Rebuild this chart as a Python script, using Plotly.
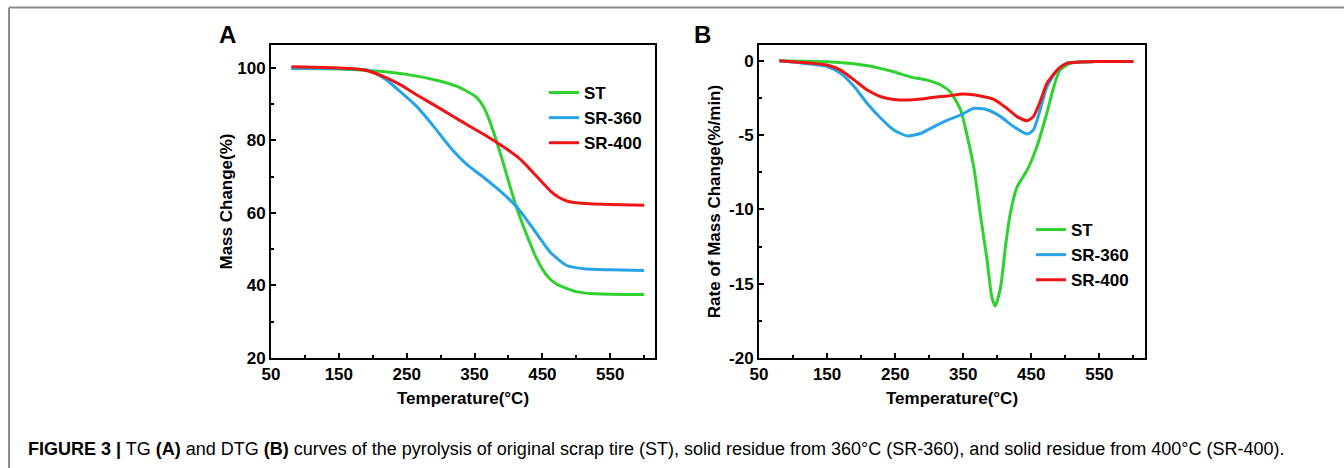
import plotly.graph_objects as go

W, H = 1344, 468

# ---------------- Data: TG (panel A) ----------------
tg_st_T = [80, 150, 200, 250, 300, 325, 340, 350, 358, 365, 372, 380, 390, 400, 410, 420, 430, 440, 450, 460, 470, 480, 490, 500, 520, 550, 600]
tg_st_M = [99.8, 99.7, 99.2, 98.2, 96.3, 94.8, 93.4, 92.3, 90.8, 88.6, 85.5, 81.2, 75.2, 68.8, 62.6, 57.3, 52.5, 48.0, 44.5, 42.0, 40.5, 39.6, 38.9, 38.3, 37.8, 37.6, 37.5]

tg_360_T = [80, 150, 192, 217, 241, 265, 290, 315, 339, 364, 388, 413, 437, 462, 486, 511, 550, 600]
tg_360_M = [99.9, 99.8, 99.4, 97.1, 93.4, 89.3, 83.8, 77.9, 73.3, 69.7, 66.0, 61.5, 55.5, 49.1, 45.5, 44.6, 44.3, 44.1]

tg_400_T = [80, 168, 192, 217, 241, 265, 290, 315, 339, 364, 388, 400, 413, 425, 437, 450, 462, 474, 486, 500, 520, 550, 600]
tg_400_M = [100.3, 99.8, 99.2, 97.5, 95.3, 92.5, 89.8, 87.0, 84.3, 81.6, 78.8, 77.3, 75.5, 73.4, 71.0, 68.4, 66.0, 64.3, 63.3, 62.8, 62.5, 62.3, 62.1]

# ---------------- Data: DTG (panel B) ----------------
dtg_st_T = [80, 151, 205, 248, 273, 297, 317, 331, 346, 356, 366, 375, 385, 392, 397, 405, 412, 419, 429, 444, 458, 473, 483, 492, 507, 550, 600]
dtg_st_R = [0.0, -0.07, -0.3, -0.74, -1.1, -1.3, -1.63, -2.1, -3.3, -5.1, -7.3, -10.3, -13.4, -15.9, -16.5, -15.2, -12.5, -10.3, -8.5, -7.35, -5.8, -3.5, -1.75, -0.63, -0.18, -0.05, -0.05]

dtg_360_T = [80, 151, 170, 190, 209, 229, 248, 268, 288, 307, 327, 346, 366, 385, 405, 424, 444, 453, 463, 473, 488, 502, 550, 600]
dtg_360_R = [0.0, -0.4, -0.85, -1.75, -2.87, -3.87, -4.66, -5.06, -4.88, -4.43, -3.99, -3.65, -3.2, -3.3, -3.76, -4.43, -4.93, -4.66, -3.3, -1.75, -0.63, -0.18, -0.05, -0.05]

dtg_400_T = [80, 151, 170, 190, 209, 229, 248, 268, 288, 307, 327, 351, 375, 395, 414, 429, 444, 453, 463, 473, 488, 502, 550, 600]
dtg_400_R = [0.0, -0.3, -0.63, -1.3, -1.97, -2.42, -2.6, -2.64, -2.58, -2.46, -2.37, -2.24, -2.37, -2.6, -3.2, -3.76, -4.03, -3.76, -2.75, -1.52, -0.63, -0.18, -0.05, -0.05]

names = ["ST", "SR-360", "SR-400"]
colors = ["#2fd12f", "#27a4e8", "#f01515"]

x_ticks = [50, 150, 250, 350, 450, 550]
a_yticks = [20, 40, 60, 80, 100]
b_yticks = [-20, -15, -10, -5, 0]
b_yticktext = ["-20", "-15", "-10", "-5", "0"]

caption = ("<b>FIGURE 3 |</b> TG <b>(A)</b> and DTG <b>(B)</b> curves of the pyrolysis of original scrap tire (ST), "
           "solid residue from 360°C (SR-360), and solid residue from 400°C (SR-400).")

FONT = "Liberation Sans, Arial, sans-serif"

fig = go.Figure()

tg = [(tg_st_T, tg_st_M), (tg_360_T, tg_360_M), (tg_400_T, tg_400_M)]
dtg = [(dtg_st_T, dtg_st_R), (dtg_360_T, dtg_360_R), (dtg_400_T, dtg_400_R)]

for (xs, ys), n, c in zip(tg, names, colors):
    fig.add_trace(go.Scatter(x=xs, y=ys, name=n, mode="lines",
                             line=dict(color=c, width=3, shape="spline", smoothing=0.6),
                             xaxis="x", yaxis="y", legend="legend"))
for (xs, ys), n, c in zip(dtg, names, colors):
    fig.add_trace(go.Scatter(x=xs, y=ys, name=n, mode="lines",
                             line=dict(color=c, width=3, shape="spline", smoothing=0.6),
                             xaxis="x2", yaxis="y2", legend="legend2"))

axis_common = dict(showline=True, linecolor="black", linewidth=2, mirror=True,
                   ticks="inside", ticklen=5, tickwidth=1.5, tickcolor="black",
                   showgrid=False, zeroline=False, automargin=False,
                   tickfont=dict(family=FONT, size=17, color="black", weight="bold"),
                   minor=dict(ticks="inside", ticklen=3, tickwidth=1.5, tickcolor="black"))

title_font = dict(family=FONT, size=17, color="black", weight="bold")
ydom = [1 - 358 / H, 1 - 45 / H]

fig.update_layout(
    width=W, height=H, autosize=False,
    margin=dict(l=0, r=0, t=0, b=0, pad=0, autoexpand=False),
    paper_bgcolor="white", plot_bgcolor="white",
    showlegend=True,
    xaxis=dict(domain=[271 / W, 655 / W], range=[50, 616], tickvals=x_ticks,
               minor_dtick=50, ticklabelstandoff=0,
               title=dict(text="Temperature(°C)", standoff=9, font=title_font),
               anchor="y", **axis_common),
    yaxis=dict(domain=ydom, range=[20, 106.3], tickvals=a_yticks,
               minor_dtick=10,
               title=dict(text="Mass Change(%)", standoff=0, font=title_font),
               anchor="x", **axis_common),
    xaxis2=dict(domain=[759 / W, 1145 / W], range=[50, 617], tickvals=x_ticks,
                minor_dtick=50, ticklabelstandoff=0,
                title=dict(text="Temperature(°C)", standoff=9, font=title_font),
                anchor="y2", **axis_common),
    yaxis2=dict(domain=ydom, range=[-20, 1.06], tickvals=b_yticks, ticktext=b_yticktext,
                minor_dtick=2.5,
                title=dict(text="Rate of Mass Change(%/min)", standoff=4, font=title_font),
                anchor="x2", **axis_common),
    legend=dict(x=544 / W, y=1 - 75 / H, xanchor="left", yanchor="top",
                bgcolor="rgba(0,0,0,0)", borderwidth=0, tracegroupgap=0,
                font=dict(family=FONT, size=17, color="black", weight="bold")),
    legend2=dict(x=1031 / W, y=1 - 212 / H, xanchor="left", yanchor="top",
                 bgcolor="rgba(0,0,0,0)", borderwidth=0, tracegroupgap=0,
                 font=dict(family=FONT, size=17, color="black", weight="bold")),
    annotations=[
        dict(text="A", x=227 / W, y=1 - 35 / H, xref="paper", yref="paper",
             showarrow=False, xanchor="center", yanchor="middle",
             font=dict(family=FONT, size=24, color="black", weight="bold")),
        dict(text="B", x=702 / W, y=1 - 35 / H, xref="paper", yref="paper",
             showarrow=False, xanchor="center", yanchor="middle",
             font=dict(family=FONT, size=24, color="black", weight="bold")),
        dict(text=caption, x=26 / W, y=1 - 449 / H, xref="paper", yref="paper",
             showarrow=False, xanchor="left", yanchor="middle",
             font=dict(family=FONT, size=18, color="black")),
    ],
    shapes=[
        dict(type="line", xref="paper", yref="paper", x0=9 / W, x1=1, y0=1 - 7.5 / H, y1=1 - 7.5 / H,
             line=dict(color="#8c8c8c", width=2)),
        dict(type="line", xref="paper", yref="paper", x0=9 / W, x1=9 / W, y0=0, y1=1 - 7.5 / H,
             line=dict(color="#8c8c8c", width=2)),
    ],
)

fig.write_html(
    "out.html",
    config={"displayModeBar": False, "responsive": False},
    post_script=("document.documentElement.style.margin='0';"
                 "document.documentElement.style.overflow='hidden';"
                 "document.body.style.margin='0';"
                 "document.body.style.padding='0';"
                 "document.body.style.overflow='hidden';"),
)
